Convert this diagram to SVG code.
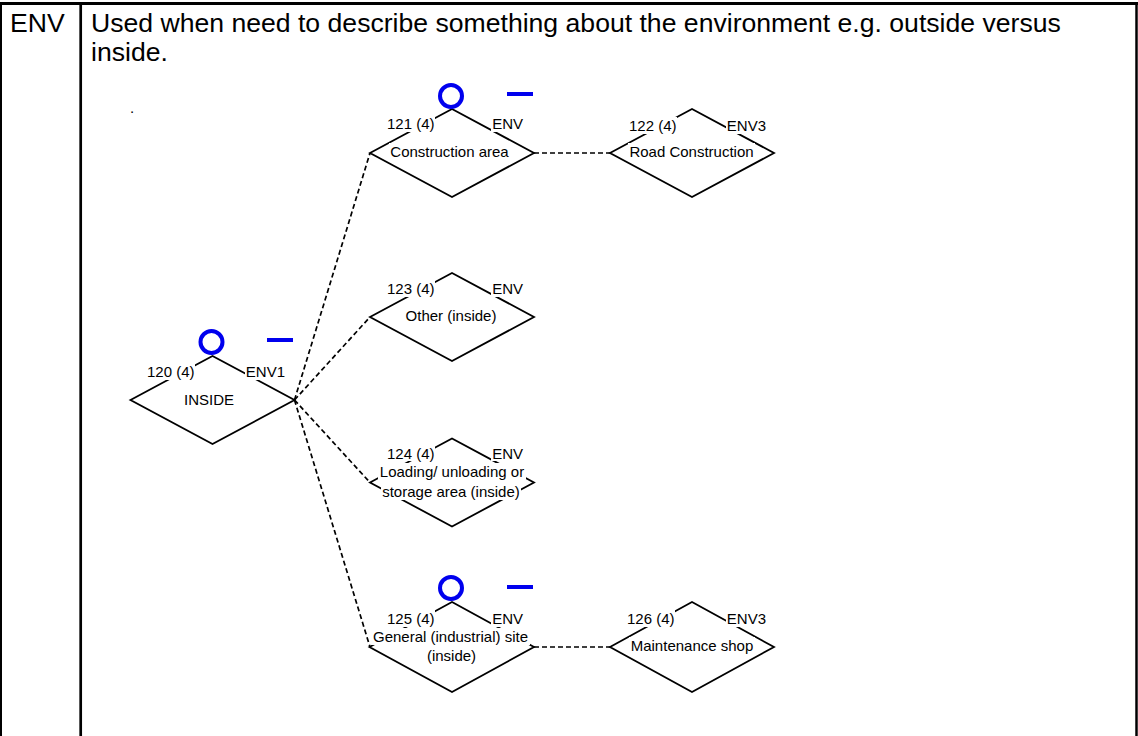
<svg xmlns="http://www.w3.org/2000/svg" width="1138" height="736" viewBox="0 0 1138 736">
<style>
.t{font-family:"Liberation Sans",Arial,sans-serif;font-size:15px;fill:#000}
.h{font-family:"Liberation Sans",Arial,sans-serif;font-size:26.6px;fill:#000}
.m{text-anchor:middle}
.e{text-anchor:end}
.d{fill:none;stroke:#000;stroke-width:1.8;stroke-linejoin:miter}
.bg{fill:#fff}
.c{fill:none;stroke:#000;stroke-width:1.7;stroke-dasharray:5 3}
.o{fill:none;stroke:#0000ee;stroke-width:4}
.k{stroke:#0000ee;stroke-width:4}
.f{stroke:#000;fill:none}
</style>
<rect width="1138" height="736" fill="#fff"/>
<g id="frame">
<line class="f" x1="0" y1="3.5" x2="1138" y2="3.5" stroke-width="3"/>
<line class="f" x1="1" y1="3" x2="1" y2="736" stroke-width="2"/>
<line class="f" x1="80.7" y1="3" x2="80.7" y2="736" stroke-width="2.7"/>
<line class="f" x1="1136.5" y1="3" x2="1136.5" y2="736" stroke-width="2.5"/>
</g>
<g id="header">
<text class="h" x="10" y="32">ENV</text>
<text class="h" x="91" y="32">Used when need to describe something about the environment e.g. outside versus</text>
<text class="h" x="91" y="61">inside.</text>
<text class="t" x="130" y="113">.</text>
</g>
<g id="connectors">
<path class="c" d="M294.5,400 L370,153"/>
<path class="c" d="M294.5,400 L370,317"/>
<path class="c" d="M294.5,400 L370,482.5"/>
<path class="c" d="M294.5,400 L370,647"/>
<path class="c" d="M534,153 L610,153"/>
<path class="c" d="M534,647 L610,647"/>
</g>
<g id="n120">
<polygon class="d" points="130.5,400 212.5,356 294.5,400 212.5,444"/>
<rect class="bg" x="146" y="363" width="49" height="17"/>
<rect class="bg" x="245" y="363" width="41" height="17"/>
<text class="t" x="147" y="377">120 (4)</text>
<text class="t e" x="285" y="377">ENV1</text>
<text class="t m" x="209" y="405">INSIDE</text>
<circle class="o" cx="211.5" cy="342" r="11"/>
<line class="k" x1="267" y1="340" x2="293" y2="340"/>
</g>
<g id="n121">
<polygon class="d" points="370,153 452,109 534,153 452,197"/>
<rect class="bg" x="386" y="115" width="49" height="17"/>
<rect class="bg" x="491" y="115" width="33" height="17"/>
<rect class="bg" x="389" y="143" width="121" height="17"/>
<text class="t" x="387" y="129">121 (4)</text>
<text class="t e" x="523" y="129">ENV</text>
<text class="t m" x="449.5" y="157">Construction area</text>
<circle class="o" cx="451" cy="96" r="11"/>
<line class="k" x1="507" y1="94" x2="533" y2="94"/>
</g>
<g id="n122">
<polygon class="d" points="610,153 692,109 774,153 692,197"/>
<rect class="bg" x="628" y="117" width="49" height="17"/>
<rect class="bg" x="726" y="117" width="41" height="17"/>
<rect class="bg" x="628" y="143" width="127" height="17"/>
<text class="t" x="629" y="131">122 (4)</text>
<text class="t e" x="766" y="131">ENV3</text>
<text class="t m" x="691.5" y="157">Road Construction</text>
</g>
<g id="n123">
<polygon class="d" points="370,317 452,273 534,317 452,361"/>
<rect class="bg" x="386" y="280" width="49" height="17"/>
<rect class="bg" x="491" y="280" width="33" height="17"/>
<rect class="bg" x="404" y="307" width="94" height="17"/>
<text class="t" x="387" y="294">123 (4)</text>
<text class="t e" x="523" y="294">ENV</text>
<text class="t m" x="451" y="321">Other (inside)</text>
</g>
<g id="n124">
<polygon class="d" points="370,482.5 452,438.5 534,482.5 452,526.5"/>
<rect class="bg" x="386" y="445" width="49" height="16"/>
<rect class="bg" x="491" y="445" width="33" height="16"/>
<rect class="bg" x="378" y="463" width="148" height="17"/>
<rect class="bg" x="381" y="483" width="140" height="17"/>
<text class="t" x="387" y="459">124 (4)</text>
<text class="t e" x="523" y="459">ENV</text>
<text class="t m" x="452" y="477">Loading/ unloading or</text>
<text class="t m" x="451" y="497">storage area (inside)</text>
</g>
<g id="n125">
<polygon class="d" points="369.5,647 452,602 534,647 452,692"/>
<rect class="bg" x="386" y="610" width="49" height="17"/>
<rect class="bg" x="491" y="610" width="33" height="17"/>
<rect class="bg" x="371" y="628" width="159" height="17"/>
<rect class="bg" x="425" y="647" width="53" height="17"/>
<text class="t" x="387" y="624">125 (4)</text>
<text class="t e" x="523" y="624">ENV</text>
<text class="t m" x="450.5" y="642">General (industrial) site</text>
<text class="t m" x="451.5" y="661">(inside)</text>
<circle class="o" cx="451" cy="588" r="11"/>
<line class="k" x1="507" y1="587" x2="533" y2="587"/>
</g>
<g id="n126">
<polygon class="d" points="610,647 692,602 774,647 692,692"/>
<rect class="bg" x="626" y="610" width="49" height="17"/>
<rect class="bg" x="726" y="610" width="41" height="17"/>
<rect class="bg" x="629" y="637" width="126" height="17"/>
<text class="t" x="627" y="624">126 (4)</text>
<text class="t e" x="766" y="624">ENV3</text>
<text class="t m" x="692" y="651">Maintenance shop</text>
</g>
</svg>
